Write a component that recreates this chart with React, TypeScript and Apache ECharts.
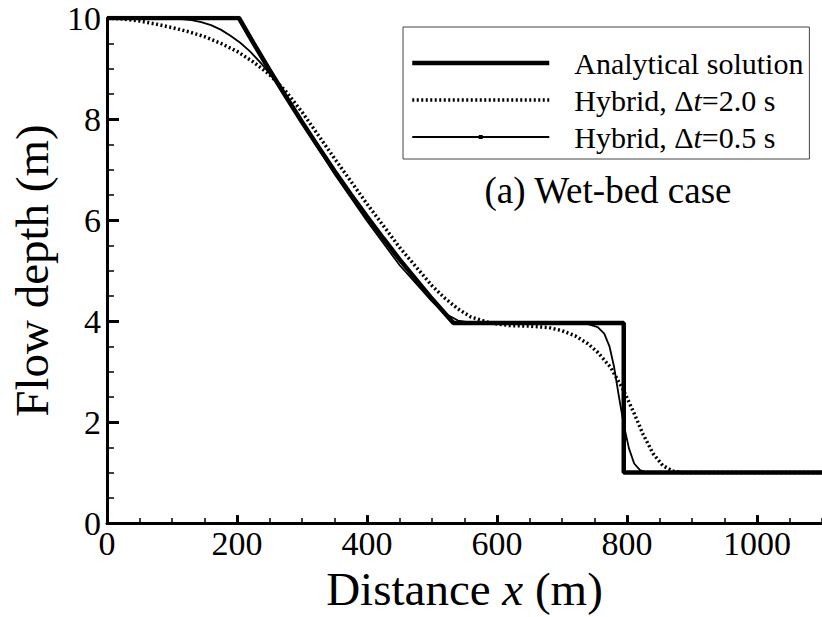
import React, { useEffect, useRef } from "react";
import * as echarts from "echarts";

const FONT = "Liberation Serif";

const seriesNames = ["Analytical solution", "Hybrid, Δt=2.0 s", "Hybrid, Δt=0.5 s"];

const analyticX = [0, 203, 225, 250, 275, 300, 325, 350, 375, 400, 425, 450, 475, 500, 520, 533, 795, 795, 1100];
const analyticH = [10, 10, 9.51, 8.97, 8.45, 7.94, 7.45, 6.97, 6.51, 6.07, 5.64, 5.22, 4.83, 4.44, 4.15, 3.96, 3.96, 1, 1];

const dt20X = [0, 25, 50, 75, 100, 125, 150, 175, 200, 225, 250, 275, 300, 350, 400, 450, 500, 520, 540, 560, 590, 620, 650, 680, 700, 720, 740, 755, 775, 795, 810, 825, 840, 855, 870, 885, 1100];
const dt20H = [10, 9.98, 9.94, 9.88, 9.81, 9.73, 9.63, 9.5, 9.34, 9.13, 8.88, 8.55, 8.14, 7.22, 6.32, 5.46, 4.7, 4.45, 4.24, 4.08, 3.96, 3.91, 3.9, 3.87, 3.81, 3.71, 3.55, 3.38, 3.08, 2.62, 2.2, 1.75, 1.38, 1.14, 1.03, 1.0, 1.0];

const dt05X = [0, 100, 115, 130, 145, 160, 175, 190, 205, 220, 240, 270, 300, 350, 400, 450, 500, 520, 540, 560, 600, 700, 740, 755, 765, 773, 780, 787, 795, 803, 811, 820, 830, 1100];
const dt05H = [10, 9.99, 9.98, 9.96, 9.92, 9.86, 9.77, 9.65, 9.51, 9.34, 9.06, 8.58, 7.93, 6.91, 5.98, 5.11, 4.39, 4.15, 4.01, 3.97, 3.96, 3.96, 3.94, 3.88, 3.75, 3.5, 3.1, 2.55, 1.95, 1.48, 1.18, 1.05, 1.0, 1.0];

const pairs = (xs: number[], ys: number[]) => xs.map((x, i) => [x, ys[i]]);

export default function App() {
  const ref = useRef<HTMLDivElement>(null);
  useEffect(() => {
    document.body.style.margin = "0";
    const chart = echarts.init(ref.current!, null, { renderer: "svg" });
    const grid = { left: 102.5, right: 0, top: 18, bottom: 79 };
    chart.setOption({
      animation: false,
      backgroundColor: "#fff",
      grid,
      xAxis: [
        {
          type: "value", min: 0, max: 1100, interval: 200,
          axisLine: { show: true, onZero: false, lineStyle: { color: "#000", width: 3 } },
          axisTick: { show: true, inside: true, length: 8, lineStyle: { color: "#000", width: 3 } },
          splitLine: { show: false },
          axisLabel: {
            show: true, showMaxLabel: false, color: "#000", fontFamily: FONT, fontSize: 34, margin: 3,
            formatter: (v: number) => String(v),
          },
          name: "Distance {i|x} (m)",
          nameLocation: "middle",
          nameGap: 32,
          nameTextStyle: {
            color: "#000", fontFamily: FONT, fontSize: 47,
            rich: { i: { fontStyle: "italic", fontFamily: FONT, fontSize: 47, color: "#000" } },
          },
        },
        {
          type: "value", min: 0, max: 1100, interval: 50, position: "bottom",
          axisLine: { show: false },
          axisTick: { show: true, inside: true, length: 5, lineStyle: { color: "#000", width: 1.5 } },
          axisLabel: { show: false },
          splitLine: { show: false },
        },
      ],
      yAxis: [
        {
          type: "value", min: 0, max: 10, interval: 2,
          axisLine: { show: true, onZero: false, lineStyle: { color: "#000", width: 3 } },
          axisTick: { show: true, inside: true, length: 12, lineStyle: { color: "#000", width: 3 } },
          splitLine: { show: false },
          axisLabel: { color: "#000", fontFamily: FONT, fontSize: 34, margin: 6 },
          name: "Flow depth (m)",
          nameLocation: "middle",
          nameRotate: 90,
          nameGap: 52,
          nameTextStyle: { color: "#000", fontFamily: FONT, fontSize: 47 },
        },
        {
          type: "value", min: 0, max: 10, interval: 0.5, position: "left",
          axisLine: { show: false },
          axisTick: { show: true, inside: true, length: 7, lineStyle: { color: "#000", width: 1.5 } },
          axisLabel: { show: false },
          splitLine: { show: false },
        },
      ],
      legend: {
        orient: "vertical",
        left: 403,
        top: 27,
        itemWidth: 137,
        itemHeight: 5,
        itemGap: 7,
        padding: [21, 6, 7, 7],
        borderColor: "#444",
        borderWidth: 1,
        backgroundColor: "#fff",
        selectedMode: false,
        data: [
          { name: seriesNames[0], lineStyle: { width: 4.5, type: "solid" }, itemStyle: { opacity: 0 } },
          { name: seriesNames[1], lineStyle: { width: 3.5, type: [2, 2.5] }, itemStyle: { opacity: 0 } },
          { name: seriesNames[2], lineStyle: { width: 2, type: "solid" } },
        ],
        formatter: (n: string) => n.replace("Δt", "Δ{i|t}"),
        textStyle: {
          color: "#000", fontFamily: FONT, fontSize: 30, lineHeight: 30,
          padding: [0, 0, 0, 20],
          rich: { i: { fontStyle: "italic", fontFamily: FONT, fontSize: 30, color: "#000" } },
        },
      },
      graphic: [
        {
          type: "text",
          x: 608,
          y: 190,
          style: {
            text: "(a) Wet-bed case",
            fontFamily: FONT,
            fontSize: 37,
            fill: "#000",
            textAlign: "center",
            textVerticalAlign: "middle",
          },
          z: 100,
        },
      ],
      series: [
        {
          name: seriesNames[0], type: "line", data: pairs(analyticX, analyticH),
          symbol: "none", lineStyle: { color: "#000", width: 4.5 }, itemStyle: { color: "#000" }, z: 3,
        },
        {
          name: seriesNames[1], type: "line", data: pairs(dt20X, dt20H),
          symbol: "none",
          lineStyle: { color: "#000", width: 3.5, type: [2, 2.5] }, itemStyle: { color: "#000" }, z: 2,
        },
        {
          name: seriesNames[2], type: "line", data: pairs(dt05X, dt05H),
          symbol: "rect", symbolSize: 4, showSymbol: false,
          lineStyle: { color: "#000", width: 1.8 }, itemStyle: { color: "#000" }, z: 4,
        },
      ],
    });
    return () => chart.dispose();
  }, []);
  return <div ref={ref} style={{ width: 822, height: 617 }} />;
}
